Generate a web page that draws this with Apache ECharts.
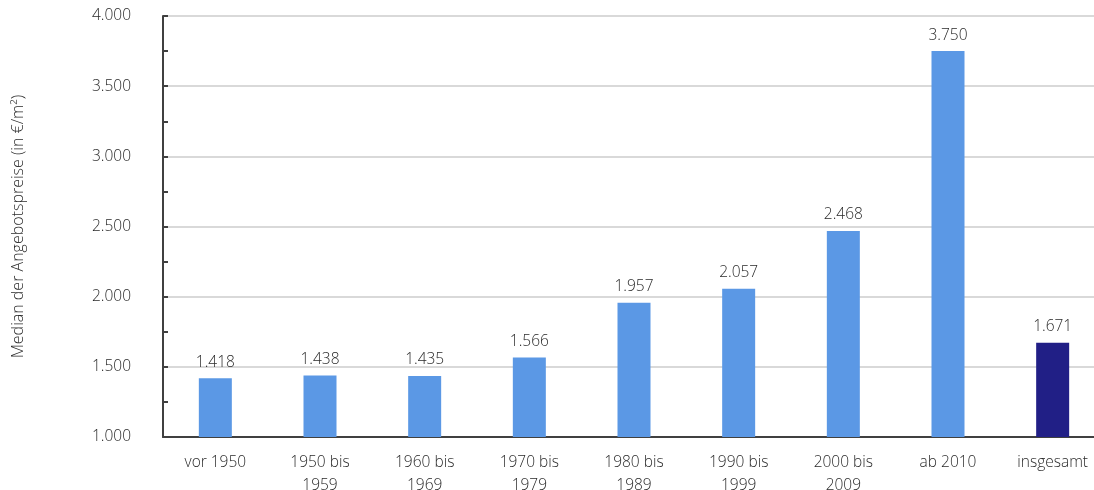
<!DOCTYPE html>
<html><head><meta charset="utf-8">
<script src="https://cdn.jsdelivr.net/npm/echarts@6/dist/echarts.min.js"></script>
<style>html,body{margin:0;padding:0;background:#fff}#c{width:1094px;height:490px}</style>
</head><body><div id="c"></div>
<script>
const categories = ['vor 1950','1950 bis\n1959','1960 bis\n1969','1970 bis\n1979','1980 bis\n1989','1990 bis\n1999','2000 bis\n2009','ab 2010','insgesamt'];
const values = [1418,1438,1435,1566,1957,2057,2468,3750,1671];
const highlightIndex = 8;
const yTitle = 'Median der Angebotspreise (in €/m²)';
const fmt = v => { const s = String(Math.round(v)); return s.length > 3 ? s.slice(0, s.length-3) + '.' + s.slice(-3) : s; };
const font = "'Open Sans', 'Noto Sans', sans-serif";
const txt = '#2a2a2a';
const chart = echarts.init(document.getElementById('c'), null, {renderer:'canvas'});
chart.setOption({
  animation:false,
  textStyle:{fontFamily:font},
  grid:{left:163, top:16, bottom:53, width:942, containLabel:false, outerBoundsMode:'none'},
  xAxis:{type:'category', data:categories,
    axisLine:{lineStyle:{color:'#404040', width:2}},
    axisTick:{show:false},
    axisLabel:{interval:0, color:txt, fontSize:15.5, fontWeight:300, fontFamily:font, margin:14, lineHeight:23}
  },
  yAxis:{type:'value', min:1000, max:4000, interval:500,
    name:yTitle, nameLocation:'middle', nameGap:137, nameRotate:90,
    nameTextStyle:{color:txt, fontSize:16, fontWeight:300, fontFamily:font},
    axisLine:{show:true, lineStyle:{color:'#404040', width:2}},
    axisTick:{show:true, inside:true, length:5, lineStyle:{color:'#404040', width:2}},
    minorTick:{show:true, splitNumber:2, length:5, lineStyle:{color:'#404040', width:2}},
    splitLine:{show:true, lineStyle:{color:'#d9d9d9', width:2}},
    axisLabel:{color:txt, fontSize:15.5, fontWeight:300, fontFamily:font, margin:32, formatter:fmt}
  },
  series:[{type:'bar', barWidth:33,
    data: values.map((v,i)=>({value:v, itemStyle:{color: i===highlightIndex ? '#211F86' : '#5B98E5'}})),
    label:{show:true, position:'top', distance:8, color:txt, fontSize:15.5, fontWeight:300, fontFamily:font, formatter:p=>fmt(p.value)}
  }]
});
</script></body></html>
